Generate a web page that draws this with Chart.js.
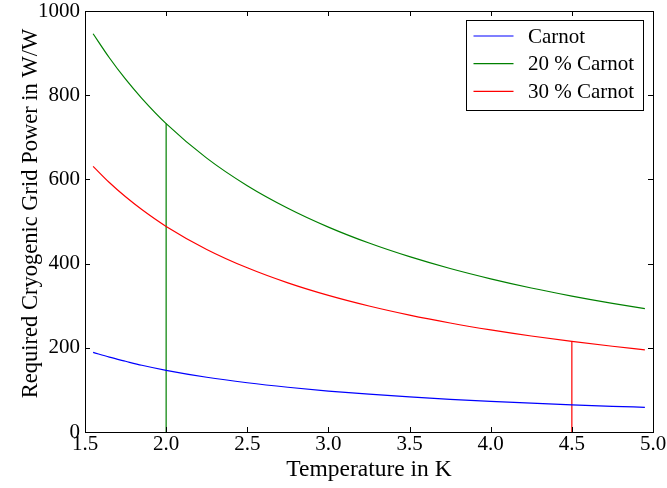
<!DOCTYPE html>
<html>
<head>
<meta charset="utf-8">
<title>Cryogenic Grid Power</title>
<script src="https://cdn.jsdelivr.net/npm/chart.js@4.4.0/dist/chart.umd.min.js"></script>
<style>
    html, body { margin: 0; padding: 0; background: #fff; }
    #wrap { width: 667px; height: 488px; }
</style>
</head>
<body>
<div id="wrap"><canvas id="powerChart" width="667" height="488"></canvas></div>
<script>
// chart data
const temps = [1.55, 1.65, 1.75, 1.85, 2.0, 2.25, 2.5, 2.75, 3.0, 3.25, 3.5, 3.75, 4.0, 4.25, 4.5, 4.75, 4.95];
const carnot = [189, 177.8, 168, 158.5, 146.5, 130, 117, 106.3, 97.3, 89.8, 83.3, 77.7, 72.8, 68.4, 64.6, 61.1, 58.6];
const carnot20 = [946, 889, 838, 792.6, 732.5, 650.5, 585, 531.5, 486.7, 448.8, 416.4, 388.3, 363.8, 342, 322.8, 305.5, 293];
const carnot30 = [631, 592.6, 558.6, 528.4, 488.3, 433.7, 390, 354.2, 324.4, 299.2, 277.6, 258.9, 242.5, 228, 215.2, 203.7, 195.3];
const seriesNames = ['Carnot', '20 % Carnot', '30 % Carnot'];
const seriesColors = ['#0000ff', '#008000', '#ff0000'];

// vertical marker lines (green at 2.0 K, red at 4.5 K)
const markerTemps = [2.0, 4.5];
const markerTops = [732.5, 215.2];
const markerColors = ['#008000', '#ff0000'];

const xTicks = [1.5, 2.0, 2.5, 3.0, 3.5, 4.0, 4.5, 5.0];
const yTicks = [0, 200, 400, 600, 800, 1000];
const xTitle = 'Temperature in K';
const yTitle = 'Required Cryogenic Grid Power in W/W';

const fontFamily = "'Liberation Serif', 'Times New Roman', serif";

function toPoints(xs, ys) {
    return xs.map((x, i) => ({ x: x, y: ys[i] }));
}

const datasets = [carnot, carnot20, carnot30].map((vals, i) => ({
    label: seriesNames[i],
    data: toPoints(temps, vals),
    borderColor: seriesColors[i],
    borderWidth: 1.2,
    pointRadius: 0,
    fill: false,
    cubicInterpolationMode: 'monotone'
}));

markerTemps.forEach((t, i) => {
    datasets.push({
        label: '_marker' + i,
        data: [{ x: t, y: 0 }, { x: t, y: markerTops[i] }],
        borderColor: markerColors[i],
        borderWidth: 1.2,
        pointRadius: 0,
        fill: false
    });
});

// frame, inward ticks on all four sides, y title and the boxed legend
const framePlugin = {
    id: 'frame',
    afterDraw(chart) {
        const ctx = chart.ctx;
        const area = chart.chartArea;
        const xs = chart.scales.x;
        const ys = chart.scales.y;
        const len = 5;
        ctx.save();
        ctx.strokeStyle = '#000';
        ctx.lineWidth = 1;
        ctx.strokeRect(Math.round(area.left) + 0.5, Math.round(area.top) + 0.5,
            Math.round(area.right - area.left), Math.round(area.bottom - area.top));
        ctx.beginPath();
        xTicks.forEach(v => {
            const px = Math.round(xs.getPixelForValue(v)) + 0.5;
            ctx.moveTo(px, area.bottom); ctx.lineTo(px, area.bottom - len);
            ctx.moveTo(px, area.top); ctx.lineTo(px, area.top + len);
        });
        yTicks.forEach(v => {
            const py = Math.round(ys.getPixelForValue(v)) + 0.5;
            ctx.moveTo(area.left, py); ctx.lineTo(area.left + len, py);
            ctx.moveTo(area.right, py); ctx.lineTo(area.right - len, py);
        });
        ctx.stroke();

        // y axis title, sits a little above the plot centre like the original
        ctx.save();
        ctx.translate(31, (area.top + area.bottom) / 2 - 8);
        ctx.rotate(-Math.PI / 2);
        ctx.font = '22.5px ' + fontFamily;
        ctx.fillStyle = '#000';
        ctx.textAlign = 'center';
        ctx.textBaseline = 'middle';
        ctx.fillText(yTitle, 0, 0);
        ctx.restore();

        // legend box
        const boxW = 177, boxH = 90;
        const bx = Math.round(area.right - 10 - boxW) + 0.5;
        const by = Math.round(area.top + 9) + 0.5;
        ctx.fillStyle = '#fff';
        ctx.fillRect(bx, by, boxW, boxH);
        ctx.strokeStyle = '#000';
        ctx.strokeRect(bx, by, boxW, boxH);
        ctx.font = '21px ' + fontFamily;
        ctx.textBaseline = 'middle';
        ctx.textAlign = 'left';
        seriesNames.forEach((name, i) => {
            const rowY = by + 15.5 + i * 27.7;
            ctx.strokeStyle = seriesColors[i];
            ctx.lineWidth = 1.2;
            ctx.beginPath();
            ctx.moveTo(bx + 7, rowY);
            ctx.lineTo(bx + 47, rowY);
            ctx.stroke();
            ctx.fillStyle = '#000';
            ctx.fillText(name, bx + 61.5, rowY + 1);
        });
        ctx.restore();
    }
};

const ctx = document.getElementById('powerChart').getContext('2d');
new Chart(ctx, {
    type: 'line',
    data: { datasets: datasets },
    options: {
        responsive: false,
        animation: false,
        layout: { padding: { left: 0, right: 14, top: 11, bottom: 0 } },
        plugins: {
            legend: { display: false },
            tooltip: { enabled: false }
        },
        scales: {
            x: {
                type: 'linear',
                min: 1.5,
                max: 5.0,
                afterBuildTicks: s => { s.ticks = xTicks.map(v => ({ value: v })); },
                grid: { display: false, drawTicks: false },
                border: { display: false },
                ticks: {
                    padding: 2,
                    color: '#000',
                    maxRotation: 0,
                    font: { family: fontFamily, size: 21, lineHeight: 1 },
                    callback: v => Number(v).toFixed(1)
                },
                title: {
                    display: true,
                    text: xTitle,
                    color: '#000',
                    font: { family: fontFamily, size: 23.5, lineHeight: 1.2 },
                    padding: { top: 0, bottom: 4 }
                },
                afterFit: s => {
                    s.height = 56;
                    s.paddingLeft = 0;
                    s.paddingRight = 0;
                }
            },
            y: {
                type: 'linear',
                min: 0,
                max: 1000,
                afterBuildTicks: s => { s.ticks = yTicks.map(v => ({ value: v })); },
                grid: { display: false, drawTicks: false },
                border: { display: false },
                ticks: {
                    padding: 5,
                    color: '#000',
                    font: { family: fontFamily, size: 21, lineHeight: 1 },
                    callback: v => String(v)
                },
                title: { display: false },
                afterFit: s => {
                    s.width = 85;
                    s.paddingTop = 0;
                    s.paddingBottom = 0;
                }
            }
        }
    },
    plugins: [framePlugin]
});
</script>
</body>
</html>
